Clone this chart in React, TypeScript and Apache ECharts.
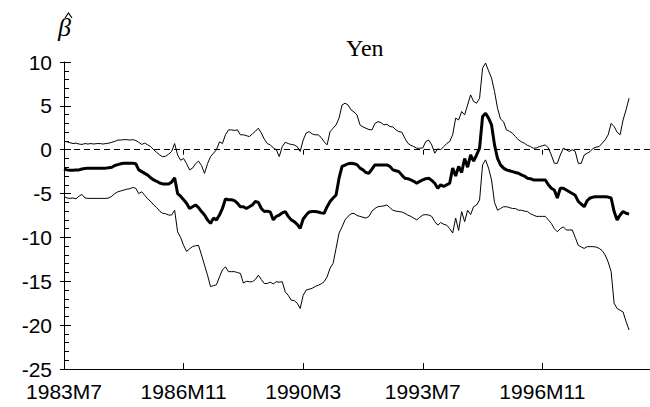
import React, { useEffect, useRef } from "react";
import * as echarts from "echarts";

// monthly observations starting 1983M7
const startYear = 1983;
const startMonth = 7;
const axisMonths = 197;
const tickLabels = ["1983M7", "1986M11", "1990M3", "1993M7", "1996M11"];

const upperBand = [
  0.95, 0.9, 0.8, 0.7, 0.75, 0.65, 0.6, 0.7, 0.65, 0.7,
  0.65, 0.7, 0.7, 0.65, 0.7, 0.75, 0.85, 0.95, 1.1, 1.1,
  1.15, 1.15, 1.1, 1.15, 1.05, 0.85, 0.6, 0.75, 0.55, 0.35,
  0.0, -0.3, -0.6, -0.8, -0.75, -0.5, -0.2, 0.7, -0.6, -1.2,
  -1.0, -1.6, -2.3, -2.1, -1.6, -1.3, -1.8, -2.7, -1.6, -0.8,
  -0.4, 0.0, 0.9, 0.7, 1.7, 2.26, 2.26, 2.2, 2.26, 1.7,
  1.7, 1.6, 1.5, 1.8, 2.1, 2.45, 1.9, 1.2, 0.7, 0.55,
  0.2, 0.0, -0.78, 0.36, 0.85, 0.7, 0.6, 0.55, 0.35, -0.2,
  1.1, 1.9, 2.07, 1.8, 1.7, 1.7, 1.4, 0.9, 0.55, 2.07,
  2.45, 2.83, 3.6, 5.1, 5.3, 5.1, 4.55, 4.3, 3.97, 2.83,
  2.6, 2.45, 2.3, 2.26, 3.0, 3.2, 3.1, 2.83, 2.9, 2.64,
  2.6, 2.26, 2.07, 2.0, 1.3, 0.74, 0.5, 0.36, 0.17, 0.17,
  0.2, 0.93, 1.1, 0.55, -0.4, 0.1, 0.0, 0.36, 0.7, 0.93,
  1.7, 3.6, 3.4, 4.35, 3.97, 5.1, 6.25, 5.5, 5.3, 5.87,
  9.3, 9.88, 9.0, 8.16, 6.64, 4.73, 3.5, 3.2, 2.26, 2.1,
  1.88, 1.5, 1.12, 0.9, 0.74, 0.5, 0.36, 0.17, 0.2, 0.36,
  0.45, 0.55, 0.2, -0.6, -1.55, -1.55, -0.6, 0.17, 0.0, -0.2,
  0.0, -0.2, -1.55, -1.55, -0.6, -0.4, -0.2, 0.17, 0.3, 0.36,
  0.74, 1.12, 1.7, 3.0, 2.64, 2.0, 1.7, 3.4, 4.55, 5.87,
];

const betaHat = [
  -2.2, -2.3, -2.35, -2.35, -2.3, -2.3, -2.2, -2.15, -2.1, -2.1,
  -2.1, -2.1, -2.1, -2.1, -2.1, -2.05, -2.0, -1.8, -1.7, -1.6,
  -1.55, -1.55, -1.55, -1.55, -1.6, -2.3, -2.5, -2.7, -2.9, -3.2,
  -3.45, -3.6, -3.8, -3.9, -3.9, -3.9, -3.7, -3.2, -5.0, -5.3,
  -5.7, -6.1, -6.7, -6.5, -6.3, -6.6, -7.05, -7.45, -8.0, -8.4,
  -7.8, -8.0, -7.45, -6.7, -5.6, -5.7, -5.7, -5.8, -6.1, -6.5,
  -6.5, -6.7, -6.5, -6.3, -5.9, -6.0, -6.7, -7.05, -7.0, -7.1,
  -8.0, -7.6, -7.45, -7.2, -7.05, -7.6, -8.0, -8.2, -8.5, -8.96,
  -7.9, -7.45, -7.1, -7.05, -7.05, -7.1, -7.2, -7.25, -6.5, -5.9,
  -5.5, -5.16, -3.25, -1.9, -1.75, -1.6, -1.55, -1.6, -1.7, -2.1,
  -2.3, -2.6, -2.68, -2.2, -1.73, -1.73, -1.73, -1.75, -1.73, -1.9,
  -2.3, -2.4, -2.5, -2.9, -3.25, -3.3, -3.45, -3.6, -3.82, -3.6,
  -3.45, -3.3, -3.25, -3.5, -3.82, -4.4, -4.0, -4.2, -4.0, -3.82,
  -2.1, -3.0, -1.9, -2.6, -1.0, -2.0, -0.6, -1.3, -0.6, 0.17,
  3.78, 4.16, 3.6, 2.83, 0.55, -1.0, -1.73, -2.1, -2.3, -2.4,
  -2.5, -2.6, -2.68, -2.87, -3.0, -3.25, -3.3, -3.45, -3.45, -3.45,
  -3.45, -3.45, -4.0, -4.4, -4.6, -5.5, -4.4, -4.4, -4.6, -4.8,
  -5.0, -5.2, -5.9, -6.2, -6.5, -5.8, -5.5, -5.4, -5.35, -5.35,
  -5.35, -5.35, -5.4, -5.5, -7.05, -8.0, -7.45, -7.05, -7.25, -7.35,
];

const lowerBand = [
  -5.35, -5.5, -5.55, -5.5, -5.6, -5.3, -5.1, -5.5, -5.55, -5.55,
  -5.55, -5.55, -5.55, -5.55, -5.55, -5.5, -5.3, -5.0, -4.8, -4.7,
  -4.6, -4.5, -4.45, -4.3, -4.4, -5.0, -4.8, -5.2, -5.6, -5.9,
  -6.3, -6.6, -7.0, -7.25, -7.3, -7.45, -7.45, -6.9, -9.35, -10.0,
  -10.9, -11.6, -11.3, -11.05, -10.95, -10.9, -12.0, -13.15, -14.3, -15.6,
  -15.5, -15.4, -14.5, -13.7, -13.35, -13.9, -13.9, -13.9, -14.0, -14.1,
  -15.2, -15.0, -15.05, -15.05, -14.8, -14.3, -14.8, -15.25, -15.25, -15.1,
  -15.3, -15.05, -15.1, -15.05, -16.2, -16.6, -17.15, -17.2, -17.5, -18.1,
  -16.6, -16.0, -15.9, -15.8, -15.6, -15.45, -15.3, -15.05, -14.5, -13.5,
  -12.96, -11.25, -9.5, -8.8, -8.0, -7.6, -7.3, -7.25, -7.5, -7.6,
  -7.7, -7.8, -7.6, -7.0, -6.7, -6.5, -6.45, -6.4, -6.3, -6.6,
  -6.9, -7.0, -7.05, -7.1, -7.25, -7.45, -7.6, -7.8, -8.0, -7.7,
  -7.45, -7.4, -7.45, -7.6, -8.2, -8.6, -8.3, -8.5, -8.6, -9.0,
  -9.5, -7.8, -9.2, -7.05, -8.2, -6.9, -7.4, -6.5, -6.3, -5.73,
  -1.73, -1.16, -2.1, -3.45, -6.0, -6.9, -6.7, -6.5, -6.5, -6.6,
  -6.7, -6.7, -6.9, -6.9, -7.0, -7.05, -7.3, -7.45, -7.6, -7.6,
  -7.6, -7.6, -8.0, -8.4, -9.0, -9.35, -9.0, -8.8, -9.15, -9.15,
  -9.15, -10.0, -10.9, -11.1, -11.25, -11.05, -11.05, -11.05, -11.1, -11.25,
  -11.5, -12.0, -12.8, -13.9, -17.5, -18.1, -18.3, -18.5, -19.6, -20.55,
];

function buildCategories(): string[] {
  const out: string[] = [];
  let y = startYear;
  let m = startMonth;
  for (let i = 0; i < axisMonths; i++) {
    out.push(`${y}M${m}`);
    m++;
    if (m > 12) {
      m = 1;
      y++;
    }
  }
  return out;
}

const SANS = "'Liberation Sans', Arial, sans-serif";
const SERIF = "'Liberation Serif', 'Times New Roman', serif";

export default function App() {
  const ref = useRef<HTMLDivElement>(null);

  useEffect(() => {
    if (!ref.current) return;
    const chart = echarts.init(ref.current, undefined, { renderer: "svg" });
    const categories = buildCategories();
    const showIdx = (idx: number, val: string) => tickLabels.indexOf(val) >= 0;

    const xBase = {
      type: "category" as const,
      data: categories,
      boundaryGap: false,
      axisLine: { show: true, onZero: false, lineStyle: { color: "#000", width: 1 } },
      splitLine: { show: false },
    };
    const yBase = {
      type: "value" as const,
      min: -25,
      max: 10,
      interval: 5,
      position: "left" as const,
      splitLine: { show: false },
    };

    chart.setOption({
      animation: false,
      backgroundColor: "#fff",
      grid: { left: 64, top: 62, width: 587, height: 307, containLabel: false },
      xAxis: [
        {
          ...xBase,
          axisTick: { show: true, inside: true, length: 6, interval: showIdx, lineStyle: { color: "#000" } },
          axisLabel: {
            interval: showIdx,
            color: "#000",
            fontSize: 21,
            fontFamily: SANS,
            margin: 12,
          },
        },
        {
          ...xBase,
          position: "bottom",
          axisLine: { show: false },
          axisTick: { show: true, inside: false, length: 5, interval: showIdx, lineStyle: { color: "#000" } },
          axisLabel: { show: false },
        },
      ],
      yAxis: [
        {
          ...yBase,
          axisLine: { show: true, lineStyle: { color: "#000", width: 1 } },
          axisTick: { show: true, inside: true, length: 7, lineStyle: { color: "#000" } },
          minorTick: { show: true, splitNumber: 5, length: 5, lineStyle: { color: "#000" } },
          axisLabel: {
            color: "#000",
            fontSize: 21,
            fontFamily: SANS,
            margin: 12,
          },
        },
        {
          ...yBase,
          axisLine: { show: false },
          axisTick: { show: true, inside: false, length: 4, lineStyle: { color: "#000" } },
          axisLabel: { show: false },
        },
      ],
      graphic: [
        {
          type: "text",
          left: 346,
          top: 36,
          style: { text: "Yen", font: `24px ${SERIF}`, fill: "#000" },
        },
        {
          type: "text",
          left: 58,
          top: 14,
          style: { text: "\u03B2", font: `italic 26px ${SERIF}`, fill: "#000" },
        },
        {
          type: "polyline",
          shape: { points: [[65, 18], [68.5, 13], [72, 18]] },
          style: { stroke: "#000", lineWidth: 1.2, fill: "none" },
        },
      ],
      series: [
        {
          type: "line",
          data: upperBand,
          showSymbol: false,
          symbol: "none",
          lineStyle: { color: "#000", width: 1 },
          markLine: {
            silent: true,
            symbol: ["none", "none"],
            label: { show: false },
            lineStyle: { color: "#000", width: 1, type: [6, 4] },
            data: [{ yAxis: 0 }],
          },
        },
        {
          type: "line",
          data: betaHat,
          showSymbol: false,
          symbol: "none",
          lineStyle: { color: "#000", width: 3 },
        },
        {
          type: "line",
          data: lowerBand,
          showSymbol: false,
          symbol: "none",
          lineStyle: { color: "#000", width: 1 },
        },
      ],
    });
    return () => chart.dispose();
  }, []);

  return (
    <div
      ref={ref}
      style={{ position: "fixed", left: 0, top: 0, width: 650, height: 407, background: "#fff" }}
    />
  );
}
